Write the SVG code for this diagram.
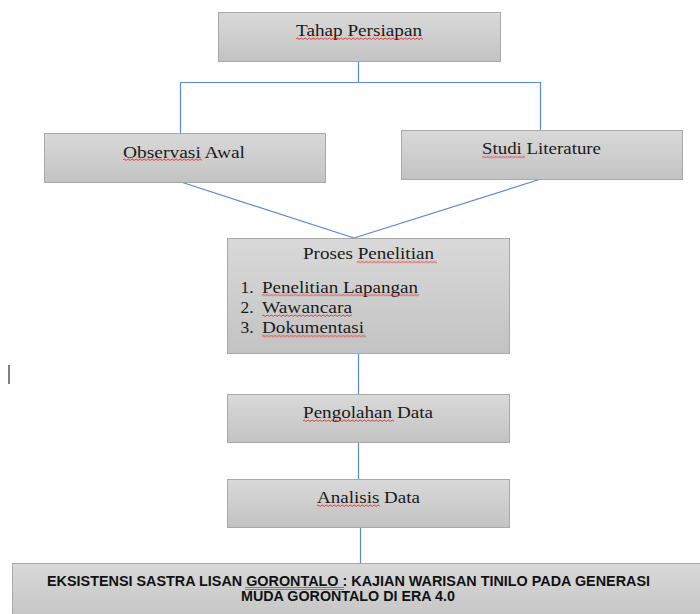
<svg xmlns="http://www.w3.org/2000/svg" width="700" height="614" viewBox="0 0 700 614">
<style>
.box{fill:url(#g);stroke:#a8a8a8;stroke-width:1}
.t{font-family:"Liberation Serif","Times New Roman",serif;font-size:17.5px;fill:#1a1a1a}
.b{font-family:"Liberation Sans",Arial,sans-serif;font-weight:bold;font-size:14px;fill:#111}
.c{fill:none;stroke:#5a86d4;stroke-width:1.2}
.w{fill:url(#wavy)}
</style>
<defs>
<linearGradient id="g" x1="0" y1="0" x2="0" y2="1">
<stop offset="0" stop-color="#d9d9d9"/>
<stop offset="1" stop-color="#c3c3c3"/>
</linearGradient>
<pattern id="wavy" patternUnits="userSpaceOnUse" width="4" height="3">
<path d="M0,2 Q1,0 2,1.5 T4,2" fill="none" stroke="#e02020" stroke-width="0.8"/>
</pattern>
</defs>
<rect width="700" height="614" fill="#fff"/>
<g id="connectors">
<path class="c" d="M358.5 61 V82.5"/>
<path class="c" d="M180.5 82.5 H541"/>
<path class="c" d="M180.5 82.5 V133"/>
<path class="c" d="M540.5 82.5 V130"/>
<path class="c" d="M181 182 L354 238"/>
<path class="c" d="M541 179 L354 238"/>
<path class="c" d="M358.5 353 V394"/>
<path class="c" d="M358.5 442.5 V479"/>
<path class="c" d="M360.5 528 V563"/>
</g>
<g id="tahap-persiapan">
<rect class="box" x="218.5" y="12.5" width="282" height="49"/>
<text class="t" x="296" y="35.5" textLength="126" lengthAdjust="spacingAndGlyphs">Tahap Persiapan</text>
<rect class="w" x="0" y="0" width="127" height="3" transform="translate(296,37)"/>
</g>
<g id="observasi-awal">
<rect class="box" x="44.5" y="133.5" width="281" height="49"/>
<text class="t" x="123" y="157.5" textLength="122" lengthAdjust="spacingAndGlyphs">Observasi Awal</text>
<rect class="w" x="0" y="0" width="79" height="3" transform="translate(123,158)"/>
</g>
<g id="studi-literature">
<rect class="box" x="401.5" y="130.5" width="281" height="49"/>
<text class="t" x="482" y="154" textLength="119" lengthAdjust="spacingAndGlyphs">Studi Literature</text>
<rect class="w" x="0" y="0" width="43" height="3" transform="translate(482,155.5)"/>
</g>
<g id="proses-penelitian">
<rect class="box" x="227.5" y="238.5" width="282" height="115"/>
<text class="t" x="303" y="259" textLength="131" lengthAdjust="spacingAndGlyphs">Proses Penelitian</text>
<rect class="w" x="0" y="0" width="80" height="3" transform="translate(357,260.5)"/>
<text class="t" x="240.5" y="292.5">1.</text>
<text class="t" x="262" y="292.5" textLength="156" lengthAdjust="spacingAndGlyphs">Penelitian Lapangan</text>
<rect class="w" x="0" y="0" width="157" height="3" transform="translate(262,293.5)"/>
<text class="t" x="240.5" y="313">2.</text>
<text class="t" x="262" y="313" textLength="90" lengthAdjust="spacingAndGlyphs">Wawancara</text>
<rect class="w" x="0" y="0" width="90" height="3" transform="translate(262,314)"/>
<text class="t" x="240.5" y="332.5">3.</text>
<text class="t" x="262" y="332.5" textLength="102" lengthAdjust="spacingAndGlyphs">Dokumentasi</text>
<rect class="w" x="0" y="0" width="104" height="3" transform="translate(262,334.5)"/>
</g>
<g id="pengolahan-data">
<rect class="box" x="227.5" y="394.5" width="282" height="48"/>
<text class="t" x="303" y="418" textLength="130" lengthAdjust="spacingAndGlyphs">Pengolahan Data</text>
<rect class="w" x="0" y="0" width="91" height="3" transform="translate(303,419)"/>
</g>
<g id="analisis-data">
<rect class="box" x="227.5" y="479.5" width="282" height="48"/>
<text class="t" x="317" y="503" textLength="103" lengthAdjust="spacingAndGlyphs">Analisis Data</text>
<rect class="w" x="0" y="0" width="63" height="3" transform="translate(317,504)"/>
</g>
<g id="judul">
<rect class="box" x="12.5" y="563.5" width="700" height="60"/>
<text class="b" x="47" y="585.5" textLength="603" lengthAdjust="spacingAndGlyphs">EKSISTENSI SASTRA LISAN GORONTALO : KAJIAN WARISAN TINILO PADA GENERASI</text>
<path d="M245 587.5 H344 M245 589.5 H344" stroke="#3c6fd0" stroke-width="0.8" fill="none"/>
<text class="b" x="241" y="601" textLength="214" lengthAdjust="spacingAndGlyphs">MUDA GORONTALO DI ERA 4.0</text>
</g>
<line x1="9" y1="365" x2="9" y2="384" stroke="#000" stroke-width="1"/>
</svg>
